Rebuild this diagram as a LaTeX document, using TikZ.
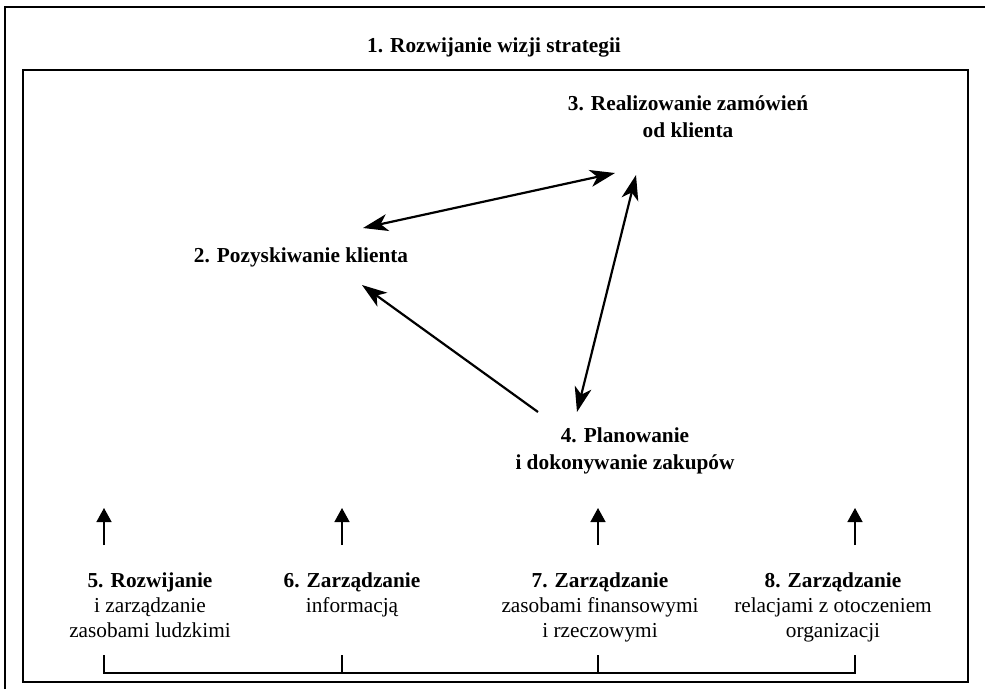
\documentclass[tikz,border=0pt]{standalone}
\usepackage{fontspec}
\setmainfont{Liberation Serif}
\usetikzlibrary{arrows.meta}
\begin{document}
\begin{tikzpicture}[x=1pt,y=-1pt,
  lbl/.style={font=\fontsize{21.3}{25}\selectfont, align=center, inner sep=0pt},
  hd/.style={font=\fontsize{21.3}{27}\selectfont\bfseries, align=center, inner sep=0pt},
  frame/.style={line width=1.6pt},
  bigtip/.tip={Stealth[length=25pt,width=17pt,inset=7pt]},
  big/.style={line width=2.2pt, -bigtip},
  bigboth/.style={line width=2.2pt, bigtip-bigtip},
  up/.style={line width=1.4pt, -{Triangle[length=14pt,width=15pt]}},
  brk/.style={line width=1.4pt}]
\useasboundingbox (0,0) rectangle (985,689);
% frames
\draw[frame] (5,689) -- (5,7) -- (985,7);
\draw[frame] (23,70) rectangle (968,682);
% texts (anchor=base is the baseline of the last line)
\node[hd, anchor=base] (n1) at (494,52) {1. Rozwijanie wizji strategii};
\node[hd, anchor=base] (n3) at (688,137) {3. Realizowanie zamówień\\od klienta};
\node[hd, anchor=base] (n2) at (301,262) {2. Pozyskiwanie klienta};
\node[hd, anchor=base] (n4) at (625,469) {4. Planowanie\\i dokonywanie zakupów};
\node[lbl, anchor=base] (n5) at (150,637) {\textbf{5. Rozwijanie}\\i zarządzanie\\zasobami ludzkimi};
\node[lbl, anchor=base] (n6) at (352,612) {\textbf{6. Zarządzanie}\\informacją};
\node[lbl, anchor=base] (n7) at (600,637) {\textbf{7. Zarządzanie}\\zasobami finansowymi\\i rzeczowymi};
\node[lbl, anchor=base] (n8) at (833,637) {\textbf{8. Zarządzanie}\\relacjami z otoczeniem\\organizacji};
% triangle connectors
\coordinate (e2a) at (363,228); \coordinate (e3a) at (615,173);
\coordinate (e3b) at (636,175); \coordinate (e4b) at (577,412);
\coordinate (e4c) at (538,412); \coordinate (e2c) at (362,285);
\draw[bigboth] (e2a) -- (e3a);
\draw[bigboth] (e4b) -- (e3b);
\draw[big] (e4c) -- (e2c);
% upward arrows
\foreach \i/\x in {5/104,6/342,7/598,8/855}{
  \coordinate (s\i) at (\x,545); \coordinate (t\i) at (\x,508);
  \draw[up] (s\i) -- (t\i);
  \coordinate (b\i) at (\x,655); \coordinate (c\i) at (\x,673);
}
% bracket
\draw[brk] (b5) -- (c5) -- (c8) -- (b8);
\draw[brk] (b6) -- (c6);
\draw[brk] (b7) -- (c7);
\end{tikzpicture}
\end{document}
